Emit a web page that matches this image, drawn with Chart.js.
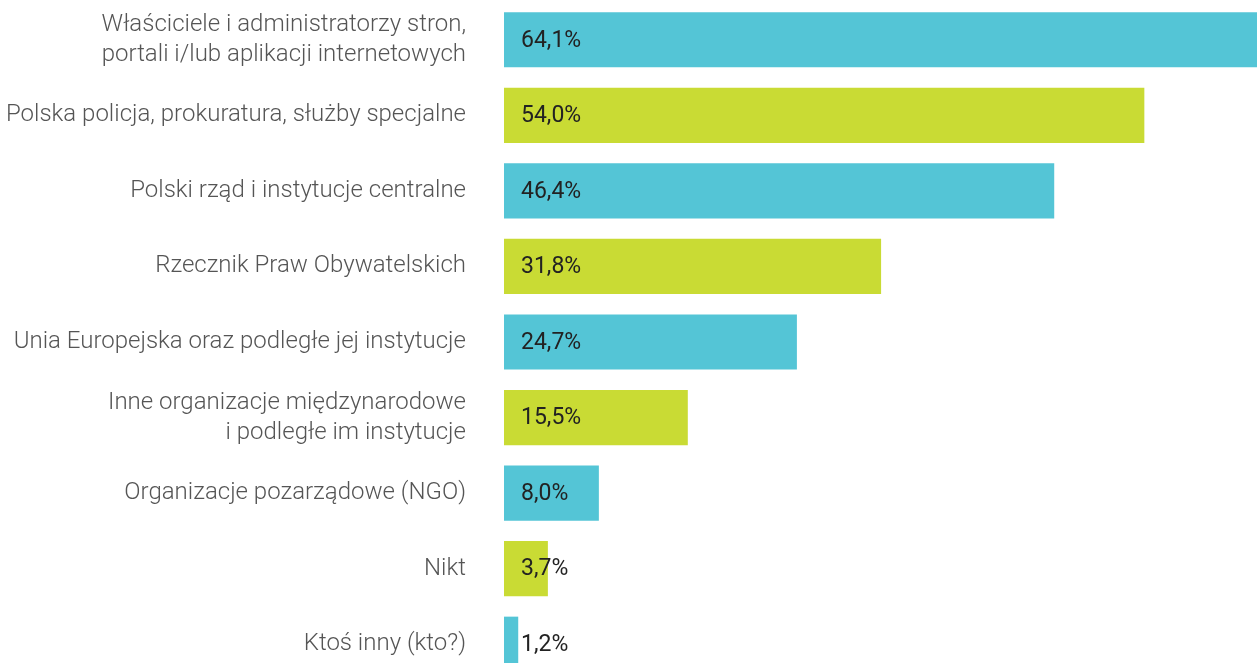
<!DOCTYPE html>
<html>
<head>
<meta charset="utf-8">
<script src="https://cdn.jsdelivr.net/npm/chart.js@4/dist/chart.umd.min.js"></script>
<style>
  html, body { margin: 0; padding: 0; background: #fff; overflow: hidden; }
  #wrap { width: 1257px; height: 663px; overflow: hidden; position: relative; }
  #box { width: 1257px; height: 682px; position: absolute; left: 0; top: 0; }
</style>
</head>
<body>
<div id="wrap"><div id="box"><canvas id="c"></canvas></div></div>
<script>
const categories = [
  ["Właściciele i administratorzy stron,", "portali i/lub aplikacji internetowych"],
  "Polska policja, prokuratura, służby specjalne",
  "Polski rząd i instytucje centralne",
  "Rzecznik Praw Obywatelskich",
  "Unia Europejska oraz podległe jej instytucje",
  ["Inne organizacje międzynarodowe", "i podległe im instytucje"],
  "Organizacje pozarządowe (NGO)",
  "Nikt",
  "Ktoś inny (kto?)"
];
const values = [64.1, 54.0, 46.4, 31.8, 24.7, 15.5, 8.0, 3.7, 1.2];

const palette = ["#54C5D6", "#C9DB34"];
const barColors = values.map((v, i) => palette[i % 2]);

const valueLabels = {
  id: 'valueLabels',
  afterDatasetsDraw(chart) {
    const ctx = chart.ctx;
    const meta = chart.getDatasetMeta(0);
    ctx.save();
    ctx.font = '400 23px Roboto';
    ctx.fillStyle = '#222222';
    ctx.textAlign = 'left';
    ctx.textBaseline = 'middle';
    meta.data.forEach((bar, i) => {
      const txt = values[i].toFixed(1).replace('.', ',') + '%';
      ctx.fillText(txt, chart.chartArea.left + 17, bar.y + 1);
    });
    ctx.restore();
  }
};

new Chart(document.getElementById('c'), {
  type: 'bar',
  data: {
    labels: categories,
    datasets: [{
      data: values,
      backgroundColor: barColors,
      borderWidth: 0,
      barPercentage: 0.73,
      categoryPercentage: 1.0,
      minBarLength: 14
    }]
  },
  options: {
    indexAxis: 'y',
    responsive: true,
    maintainAspectRatio: false,
    animation: false,
    layout: { padding: { top: 2, right: 0, bottom: 0, left: 0 } },
    plugins: {
      legend: { display: false },
      tooltip: { enabled: false }
    },
    scales: {
      x: {
        display: false,
        min: 0,
        max: 63.5
      },
      y: {
        grid: { display: false, drawTicks: false, drawOnChartArea: false },
        border: { display: false },
        ticks: {
          color: '#555555',
          font: { family: 'Roboto', weight: '300', size: 24, lineHeight: 1.25 },
          padding: 38,
          autoSkip: false
        },
        afterFit(scale) {
          scale.width = 504;
          scale.paddingTop = 0;
          scale.paddingBottom = 0;
        }
      }
    }
  },
  plugins: [valueLabels]
});
</script>
</body>
</html>
